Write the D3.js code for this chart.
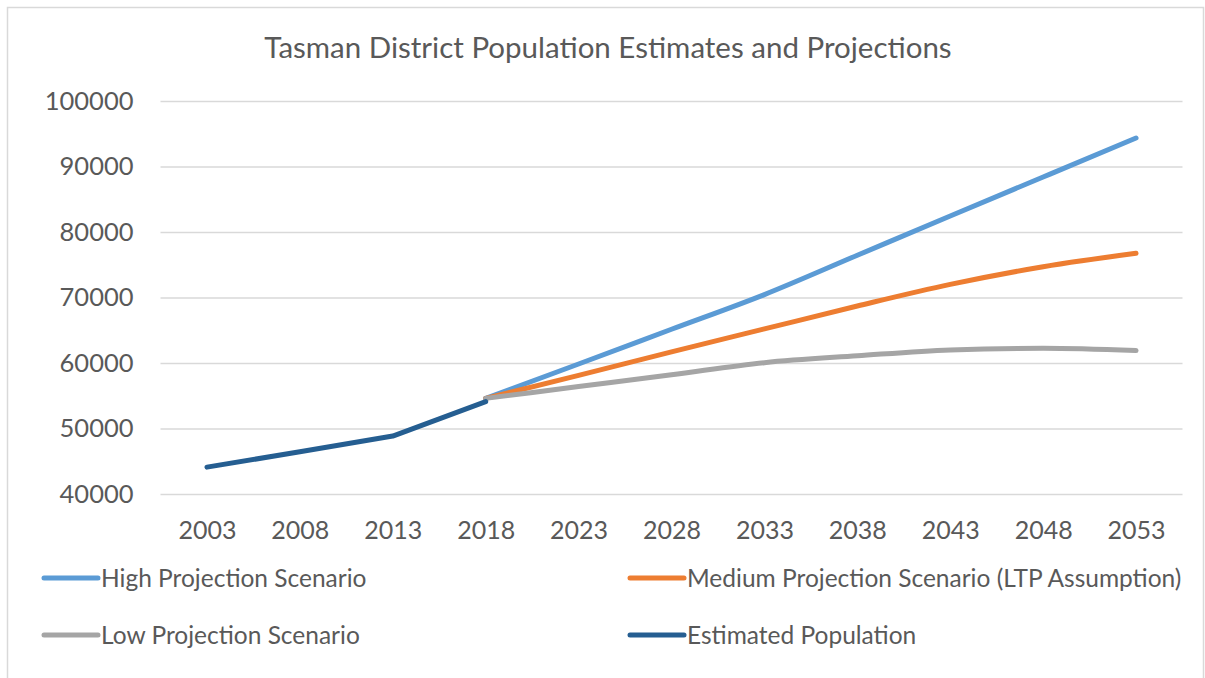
<!DOCTYPE html>
<html>
<head>
<meta charset="utf-8">
<script src="https://cdn.jsdelivr.net/npm/d3@7"></script>
<style>
  body { margin: 0; background: #fff; }
  text { font-family: Lato, "Open Sans", sans-serif; fill: #595959; }
</style>
</head>
<body>
<div id="chart"></div>
<script>
// Chart size.
var width = 1205;
var height = 678;

// Data.
var years = ["2003", "2008", "2013", "2018", "2023", "2028", "2033", "2038", "2043", "2048", "2053"];
var highProjection = [null, null, null, 54600, 59850, 65150, 70450, 76450, 82450, 88400, 94350];
var mediumProjection = [null, null, null, 54600, 58100, 61700, 65200, 68700, 72000, 74700, 76750];
var lowProjection = [null, null, null, 54600, 56400, 58200, 60050, 61100, 62000, 62250, 61900];
var estimatedPopulation = [44100, 46450, 48850, 54100, null, null, null, null, null, null, null];
var yTicks = [40000, 50000, 60000, 70000, 80000, 90000, 100000];

var series = [
  { name: "High Projection Scenario", values: highProjection, color: "#5B9BD5", smooth: true },
  { name: "Medium Projection Scenario (LTP Assumption)", values: mediumProjection, color: "#ED7D31", smooth: true },
  { name: "Low Projection Scenario", values: lowProjection, color: "#A5A5A5", smooth: true },
  { name: "Estimated Population", values: estimatedPopulation, color: "#255E91", smooth: false }
];

// Plot area.
var plot = { left: 160.5, right: 1182.5, top: 101, bottom: 494 };

var svg = d3.select("#chart").append("svg")
    .attr("width", width)
    .attr("height", height);

// Chart border.
svg.append("rect")
    .attr("x", 7.5).attr("y", 7.5)
    .attr("width", 1196).attr("height", 690)
    .attr("fill", "none")
    .attr("stroke", "#d9d9d9")
    .attr("stroke-width", 1.5);

var x = d3.scalePoint()
    .domain(years)
    .range([plot.left, plot.right])
    .padding(0.5);

var y = d3.scaleLinear()
    .domain([40000, 100000])
    .range([plot.bottom, plot.top]);

// Title.
svg.append("text")
    .attr("x", 608)
    .attr("y", 58)
    .attr("text-anchor", "middle")
    .style("font-size", "29.5px")
    .text("Tasman District Population Estimates and Projections");

// Gridlines and y tick labels.
var yAxis = svg.append("g")
    .attr("transform", "translate(" + plot.left + ",0)")
    .call(d3.axisLeft(y)
      .tickValues(yTicks)
      .tickSize(-(plot.right - plot.left))
      .tickPadding(27)
      .tickFormat(d3.format("d")));
yAxis.select(".domain").remove();
yAxis.selectAll(".tick line")
    .attr("stroke", "#d9d9d9")
    .attr("stroke-width", 1.5);
yAxis.selectAll(".tick text")
    .style("font-size", "25.5px")
    .style("font-family", "Lato, sans-serif")
    .attr("fill", "#595959");

// X labels.
var xAxis = svg.append("g")
    .attr("transform", "translate(0," + plot.bottom + ")")
    .call(d3.axisBottom(x).tickSize(0).tickPadding(27));
xAxis.select(".domain").remove();
xAxis.selectAll(".tick text")
    .style("font-size", "25px")
    .style("font-family", "Lato, sans-serif")
    .attr("fill", "#595959");

// Lines.
var line = d3.line()
    .defined(function(d) { return d != null; })
    .x(function(d, i) { return x(years[i]); })
    .y(function(d) { return y(d); });

svg.append("g").selectAll("path")
    .data(series)
    .enter().append("path")
    .attr("d", function(d) {
      return line.curve(d.smooth ? d3.curveMonotoneX : d3.curveLinear)(d.values);
    })
    .attr("fill", "none")
    .attr("stroke", function(d) { return d.color; })
    .attr("stroke-width", 5)
    .attr("stroke-linecap", "round")
    .attr("stroke-linejoin", "round");

// Legend: two columns, two rows.
var legendPos = [[42, 578], [628, 578], [42, 635], [628, 635]];

var legend = svg.append("g").selectAll("g")
    .data(series)
    .enter().append("g")
    .attr("transform", function(d, i) { return "translate(" + legendPos[i][0] + "," + legendPos[i][1] + ")"; });

legend.append("line")
    .attr("x1", 2).attr("x2", 56)
    .attr("y1", 0).attr("y2", 0)
    .attr("stroke", function(d) { return d.color; })
    .attr("stroke-width", 5)
    .attr("stroke-linecap", "round");

legend.append("text")
    .attr("x", 59)
    .attr("y", 0)
    .attr("dy", "0.35em")
    .style("font-size", "24.5px")
    .text(function(d) { return d.name; });
</script>
</body>
</html>
